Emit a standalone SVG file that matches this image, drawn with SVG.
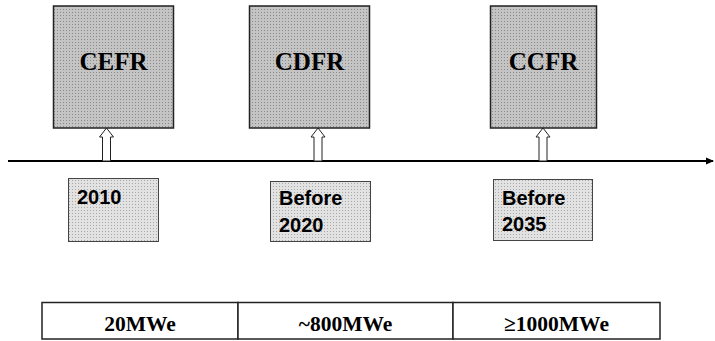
<svg xmlns="http://www.w3.org/2000/svg" width="715" height="341" viewBox="0 0 715 341">
<defs>
<pattern id="dots" width="3" height="3" patternUnits="userSpaceOnUse">
<rect width="3" height="3" fill="#c4c4c4"/>
<rect width="1" height="1" fill="#8a8a8a"/>
</pattern>
<pattern id="dotsL" width="3" height="3" patternUnits="userSpaceOnUse">
<rect width="3" height="3" fill="#e2e2e2"/>
<rect width="1" height="1" fill="#a8a8a8"/>
</pattern>
<marker id="ah" markerWidth="8" markerHeight="8" refX="7" refY="4" orient="auto" markerUnits="userSpaceOnUse">
<path d="M0,0.5 L8,4 L0,7.5 Z" fill="#000"/>
</marker>
</defs>
<style>
.big{fill:url(#dots);stroke:#222;stroke-width:1.5}
.small{fill:url(#dotsL);stroke:#444;stroke-width:1}
.t1{font-family:"Liberation Serif",serif;font-weight:bold;font-size:25px;fill:#000;text-anchor:middle}
.t2{font-family:"Liberation Sans",sans-serif;font-weight:bold;font-size:20px;fill:#000}
.t3{font-family:"Liberation Serif",serif;font-weight:bold;font-size:21.5px;fill:#000;text-anchor:middle}
.hollow{fill:#fff;stroke:#222;stroke-width:1}
.cell{fill:#fff;stroke:#222;stroke-width:1.5}
</style>
<g id="connectors">
<line x1="8" y1="161" x2="713" y2="161" stroke="#000" stroke-width="2" marker-end="url(#ah)"/>
<path class="hollow" d="M102.5,161 L102.5,137 L99.5,137 L106.5,128 L113.5,137 L110.5,137 L110.5,161 Z"/>
<path class="hollow" d="M314,161 L314,137 L311,137 L318,128 L325,137 L322,137 L322,161 Z"/>
<path class="hollow" d="M539,161 L539,137 L536,137 L543,128 L550,137 L547,137 L547,161 Z"/>
</g>
<g id="CEFR">
<rect class="big" x="53.5" y="6" width="120" height="122"/>
<text class="t1" x="113.5" y="70">CEFR</text>
</g>
<g id="CDFR">
<rect class="big" x="249.5" y="6" width="120" height="122"/>
<text class="t1" x="309.5" y="70">CDFR</text>
</g>
<g id="CCFR">
<rect class="big" x="490.5" y="6" width="106" height="122"/>
<text class="t1" x="543.5" y="70">CCFR</text>
</g>
<g id="y2010">
<rect class="small" x="68.5" y="178.5" width="90" height="63"/>
<text class="t2" x="77" y="204">2010</text>
</g>
<g id="y2020">
<rect class="small" x="270.5" y="181.5" width="100" height="60"/>
<text class="t2" x="279" y="205">Before</text>
<text class="t2" x="279" y="232">2020</text>
</g>
<g id="y2035">
<rect class="small" x="493.5" y="179.5" width="99" height="61"/>
<text class="t2" x="502" y="205">Before</text>
<text class="t2" x="502" y="231">2035</text>
</g>
<g id="power">
<rect class="cell" x="42" y="302.5" width="196" height="36.5"/>
<rect class="cell" x="238" y="302.5" width="215" height="36.5"/>
<rect class="cell" x="453" y="302.5" width="207" height="36.5"/>
<text class="t3" x="140" y="331">20MWe</text>
<text class="t3" x="345.5" y="331">~800MWe</text>
<text class="t3" x="556.5" y="331">≥1000MWe</text>
</g>
</svg>
